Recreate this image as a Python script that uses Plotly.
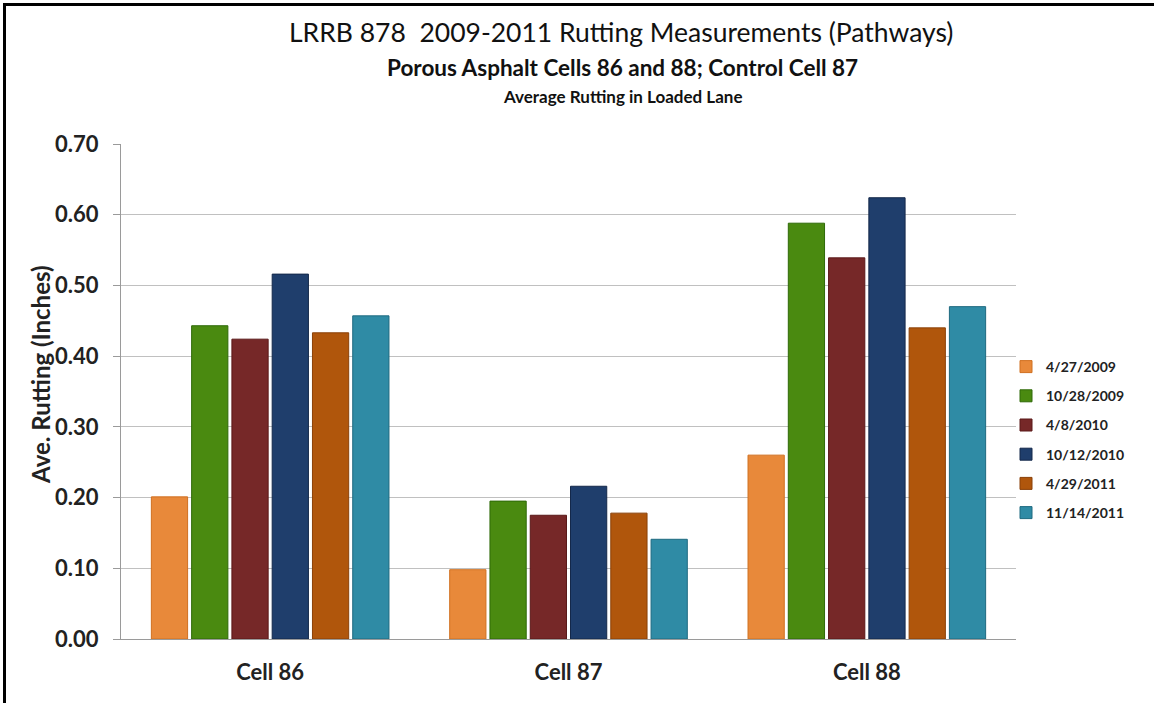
import plotly.graph_objects as go

categories = ["Cell 86", "Cell 87", "Cell 88"]
dates = ["4/27/2009", "10/28/2009", "4/8/2010", "10/12/2010", "4/29/2011", "11/14/2011"]
v_2009_04 = [0.201, 0.098, 0.260]
v_2009_10 = [0.443, 0.195, 0.588]
v_2010_04 = [0.424, 0.175, 0.539]
v_2010_10 = [0.516, 0.216, 0.624]
v_2011_04 = [0.433, 0.178, 0.440]
v_2011_11 = [0.457, 0.141, 0.470]
series = [v_2009_04, v_2009_10, v_2010_04, v_2010_10, v_2011_04, v_2011_11]
colors = ["#E8893A", "#4A8A10", "#762828", "#1F3E6C", "#B0560C", "#2F8BA5"]
edges = ["#D07020", "#2F6A08", "#5A1818", "#14284A", "#8A4008", "#1F6A80"]
y_ticks = [0.0, 0.1, 0.2, 0.3, 0.4, 0.5, 0.6, 0.7]

FONT = "Lato"
W, H = 1154, 703
L, R, T, B = 121, 138, 144, 64
PW, PH = W - L - R, H - T - B

def xpx(p):
    return (p - L) / PW

def ypx(p):
    return (H - B - p) / PH

fig = go.Figure()
for name, vals, c, e in zip(dates, series, colors, edges):
    fig.add_trace(go.Bar(x=categories, y=vals, name=name, legendgroup=name,
                         marker=dict(color=c, line=dict(color=e, width=1))))

fig.update_layout(
    width=W, height=H,
    paper_bgcolor="white", plot_bgcolor="white",
    margin=dict(l=L, r=R, t=T, b=B),
    barmode="group", bargap=0.19, bargroupgap=0.1,
    font=dict(family=FONT, color="#222222"),
    showlegend=True,
    legend=dict(x=xpx(1006), y=ypx(440), xanchor="left", yanchor="middle",
                traceorder="grouped", tracegroupgap=8,
                font=dict(size=14, color="#222222", family=FONT, weight="bold"),
                bgcolor="rgba(0,0,0,0)", itemwidth=30),
    yaxis=dict(range=[0, 0.7], tickvals=y_ticks, tickformat=".2f",
               showgrid=True, gridcolor="#C0C0C0", gridwidth=1,
               showline=True, linecolor="#9A9A9A", linewidth=1,
               ticks="outside", ticklen=7, tickcolor="#9A9A9A",
               ticklabelstandoff=10,
               tickfont=dict(size=22, family=FONT, color="#222222", weight="bold"),
               zeroline=False),
    xaxis=dict(showline=True, linecolor="#9A9A9A", linewidth=1,
               tickfont=dict(size=22, family=FONT, color="#222222", weight="bold"),
               ticks="", ticklabelstandoff=14),
    shapes=[
        dict(type="line", xref="paper", yref="paper",
             x0=xpx(4.5), x1=xpx(4.5), y0=ypx(3), y1=ypx(703),
             line=dict(color="black", width=3)),
        dict(type="line", xref="paper", yref="paper",
             x0=xpx(3), x1=xpx(1154), y0=ypx(4.5), y1=ypx(4.5),
             line=dict(color="black", width=3)),
    ],
)

fig.add_annotation(text="LRRB 878  2009-2011 Rutting Measurements (Pathways)",
                   x=xpx(621), y=ypx(32), xref="paper", yref="paper", showarrow=False,
                   xanchor="center", yanchor="middle",
                   font=dict(size=26.5, family=FONT, color="#111111"))
fig.add_annotation(text="Porous Asphalt Cells 86 and 88; Control Cell 87",
                   x=xpx(622), y=ypx(67), xref="paper", yref="paper", showarrow=False,
                   xanchor="center", yanchor="middle",
                   font=dict(size=22.5, family=FONT, color="#111111", weight="bold"))
fig.add_annotation(text="Average Rutting in Loaded Lane",
                   x=xpx(623), y=ypx(96), xref="paper", yref="paper", showarrow=False,
                   xanchor="center", yanchor="middle",
                   font=dict(size=17, family=FONT, color="#111111", weight="bold"))
fig.add_annotation(text="Ave. Rutting (Inches)", textangle=-90,
                   x=xpx(40), y=ypx(375), xref="paper", yref="paper", showarrow=False,
                   xanchor="center", yanchor="middle",
                   font=dict(size=24, family=FONT, color="#222222", weight="bold"))

fig.write_html("out.html", config={"displayModeBar": False},
               post_script="document.body.style.margin='0';")
